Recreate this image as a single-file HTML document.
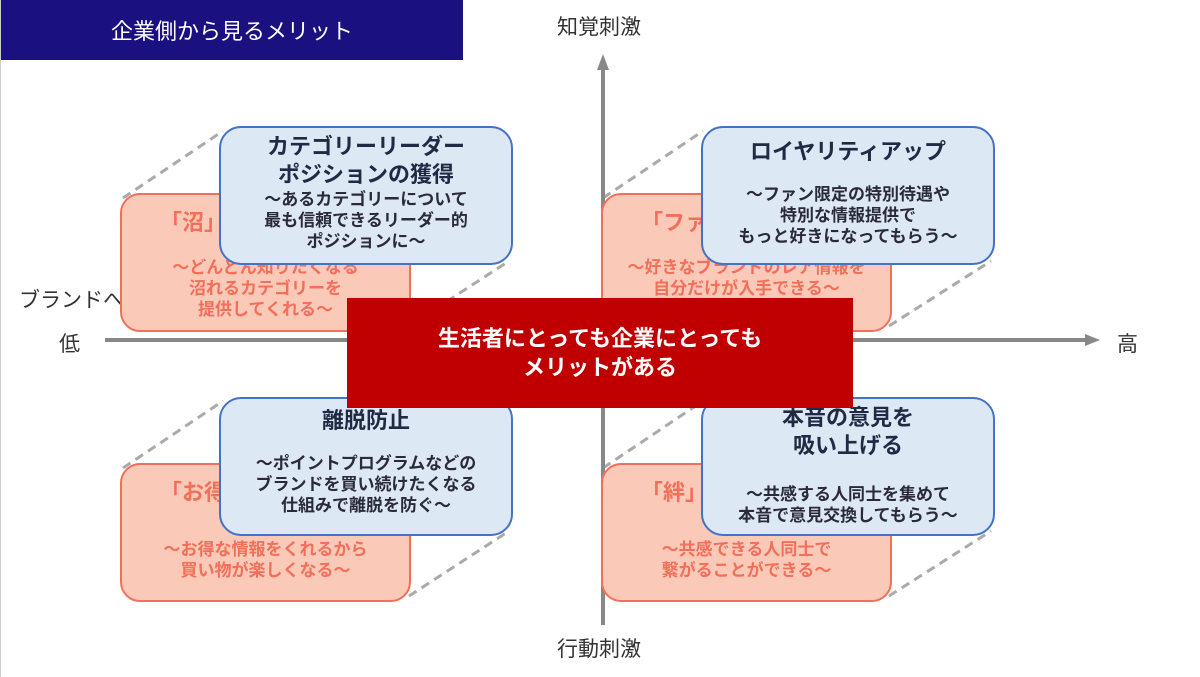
<!DOCTYPE html>
<html><head><meta charset="utf-8"><style>
*{margin:0;padding:0;box-sizing:border-box}
body{width:1200px;height:677px;background:#fff;position:relative;overflow:hidden;font-family:"Liberation Sans","Noto Sans CJK JP",sans-serif;border-left:1px solid #ccc}
.a{position:absolute}
.title{left:0;top:0;width:462px;height:60px;background:#1a1080;color:#fff;font-size:22px;display:flex;align-items:center;justify-content:center}
.lab{font-size:21px;color:#333}
.pink{background:#fbc9b8;border:2px solid #f26f5a;border-radius:20px;color:#f26f5a;text-align:center;width:291px;height:139px}
.pink .t{position:absolute;left:38px;top:10px;font-size:22px;font-weight:bold}
.pink .b{position:absolute;left:0;right:0;top:62px;font-size:17px;line-height:21px;font-weight:bold}
.blue{background:#dde8f5;border:2px solid #4472c4;border-radius:22px;color:#1f2a44;text-align:center;width:294px;height:139px}
.blue .t{font-size:22px;font-weight:bold;line-height:28px}
.blue .b{font-size:17px;line-height:21px;font-weight:bold;color:#2a2a3a}
.red{left:346px;top:298px;width:506px;height:110px;background:#c00000;color:#fff;font-size:22px;font-weight:bold;display:flex;align-items:center;justify-content:center;text-align:center;line-height:29px}
</style></head><body>
<svg class="a" style="left:0;top:0" width="1200" height="677">
<g stroke="#aaa" stroke-width="3" stroke-dasharray="9,6" fill="none">
<line x1="122" y1="198" x2="222" y2="131"/><line x1="408" y1="326" x2="508" y2="261"/>
<line x1="602" y1="198" x2="702" y2="131"/><line x1="888" y1="326" x2="990" y2="261"/>
<line x1="122" y1="468" x2="222" y2="401"/><line x1="408" y1="596" x2="508" y2="531"/>
<line x1="602" y1="468" x2="702" y2="401"/><line x1="888" y1="596" x2="990" y2="531"/>
</g>
<g stroke="#888" stroke-width="4"><line x1="602" y1="68" x2="602" y2="625"/><line x1="104" y1="340" x2="1086" y2="340"/></g>
<polygon points="602,54 596,70 608,70" fill="#888"/><polygon points="1099,340 1084,334 1084,346" fill="#888"/>
</svg>
<div class="a title">企業側から見るメリット</div>
<div class="a lab" style="left:556px;top:11px">知覚刺激</div>
<div class="a lab" style="left:556px;top:633px">行動刺激</div>
<div class="a lab" style="left:58px;top:328px">低</div>
<div class="a lab" style="left:1116px;top:328px">高</div>
<div class="a lab" style="left:18px;top:284px">ブランドへの</div>

<div class="a pink" style="left:119px;top:193px"><div class="t">「沼」な存在</div><div class="b">〜どんどん知りたくなる<br>沼れるカテゴリーを<br>提供してくれる〜</div></div>
<div class="a pink" style="left:600px;top:193px"><div class="t">「ファン」</div><div class="b">〜好きなブランドのレア情報を<br>自分だけが入手できる〜</div></div>
<div class="a pink" style="left:119px;top:463px"><div class="t">「お得」</div><div class="b" style="top:74px">〜お得な情報をくれるから<br>買い物が楽しくなる〜</div></div>
<div class="a pink" style="left:600px;top:463px"><div class="t">「絆」</div><div class="b" style="top:74px">〜共感できる人同士で<br>繋がることができる〜</div></div>

<div class="a blue" style="left:218px;top:126px;padding-top:5px"><div class="t">カテゴリーリーダー<br>ポジションの獲得</div><div class="b">〜あるカテゴリーについて<br>最も信頼できるリーダー的<br>ポジションに〜</div></div>
<div class="a blue" style="left:700px;top:126px;padding-top:10px"><div class="t">ロイヤリティアップ</div><div class="b" style="margin-top:18px">〜ファン限定の特別待遇や<br>特別な情報提供で<br>もっと好きになってもらう〜</div></div>
<div class="a blue" style="left:218px;top:397px;padding-top:8px"><div class="t">離脱防止</div><div class="b" style="margin-top:18px">〜ポイントプログラムなどの<br>ブランドを買い続けたくなる<br>仕組みで離脱を防ぐ〜</div></div>
<div class="a blue" style="left:700px;top:397px;padding-top:5px"><div class="t">本音の意見を<br>吸い上げる</div><div class="b" style="margin-top:24px">〜共感する人同士を集めて<br>本音で意見交換してもらう〜</div></div>

<div class="a red">生活者にとっても企業にとっても<br>メリットがある</div>
</body></html>
